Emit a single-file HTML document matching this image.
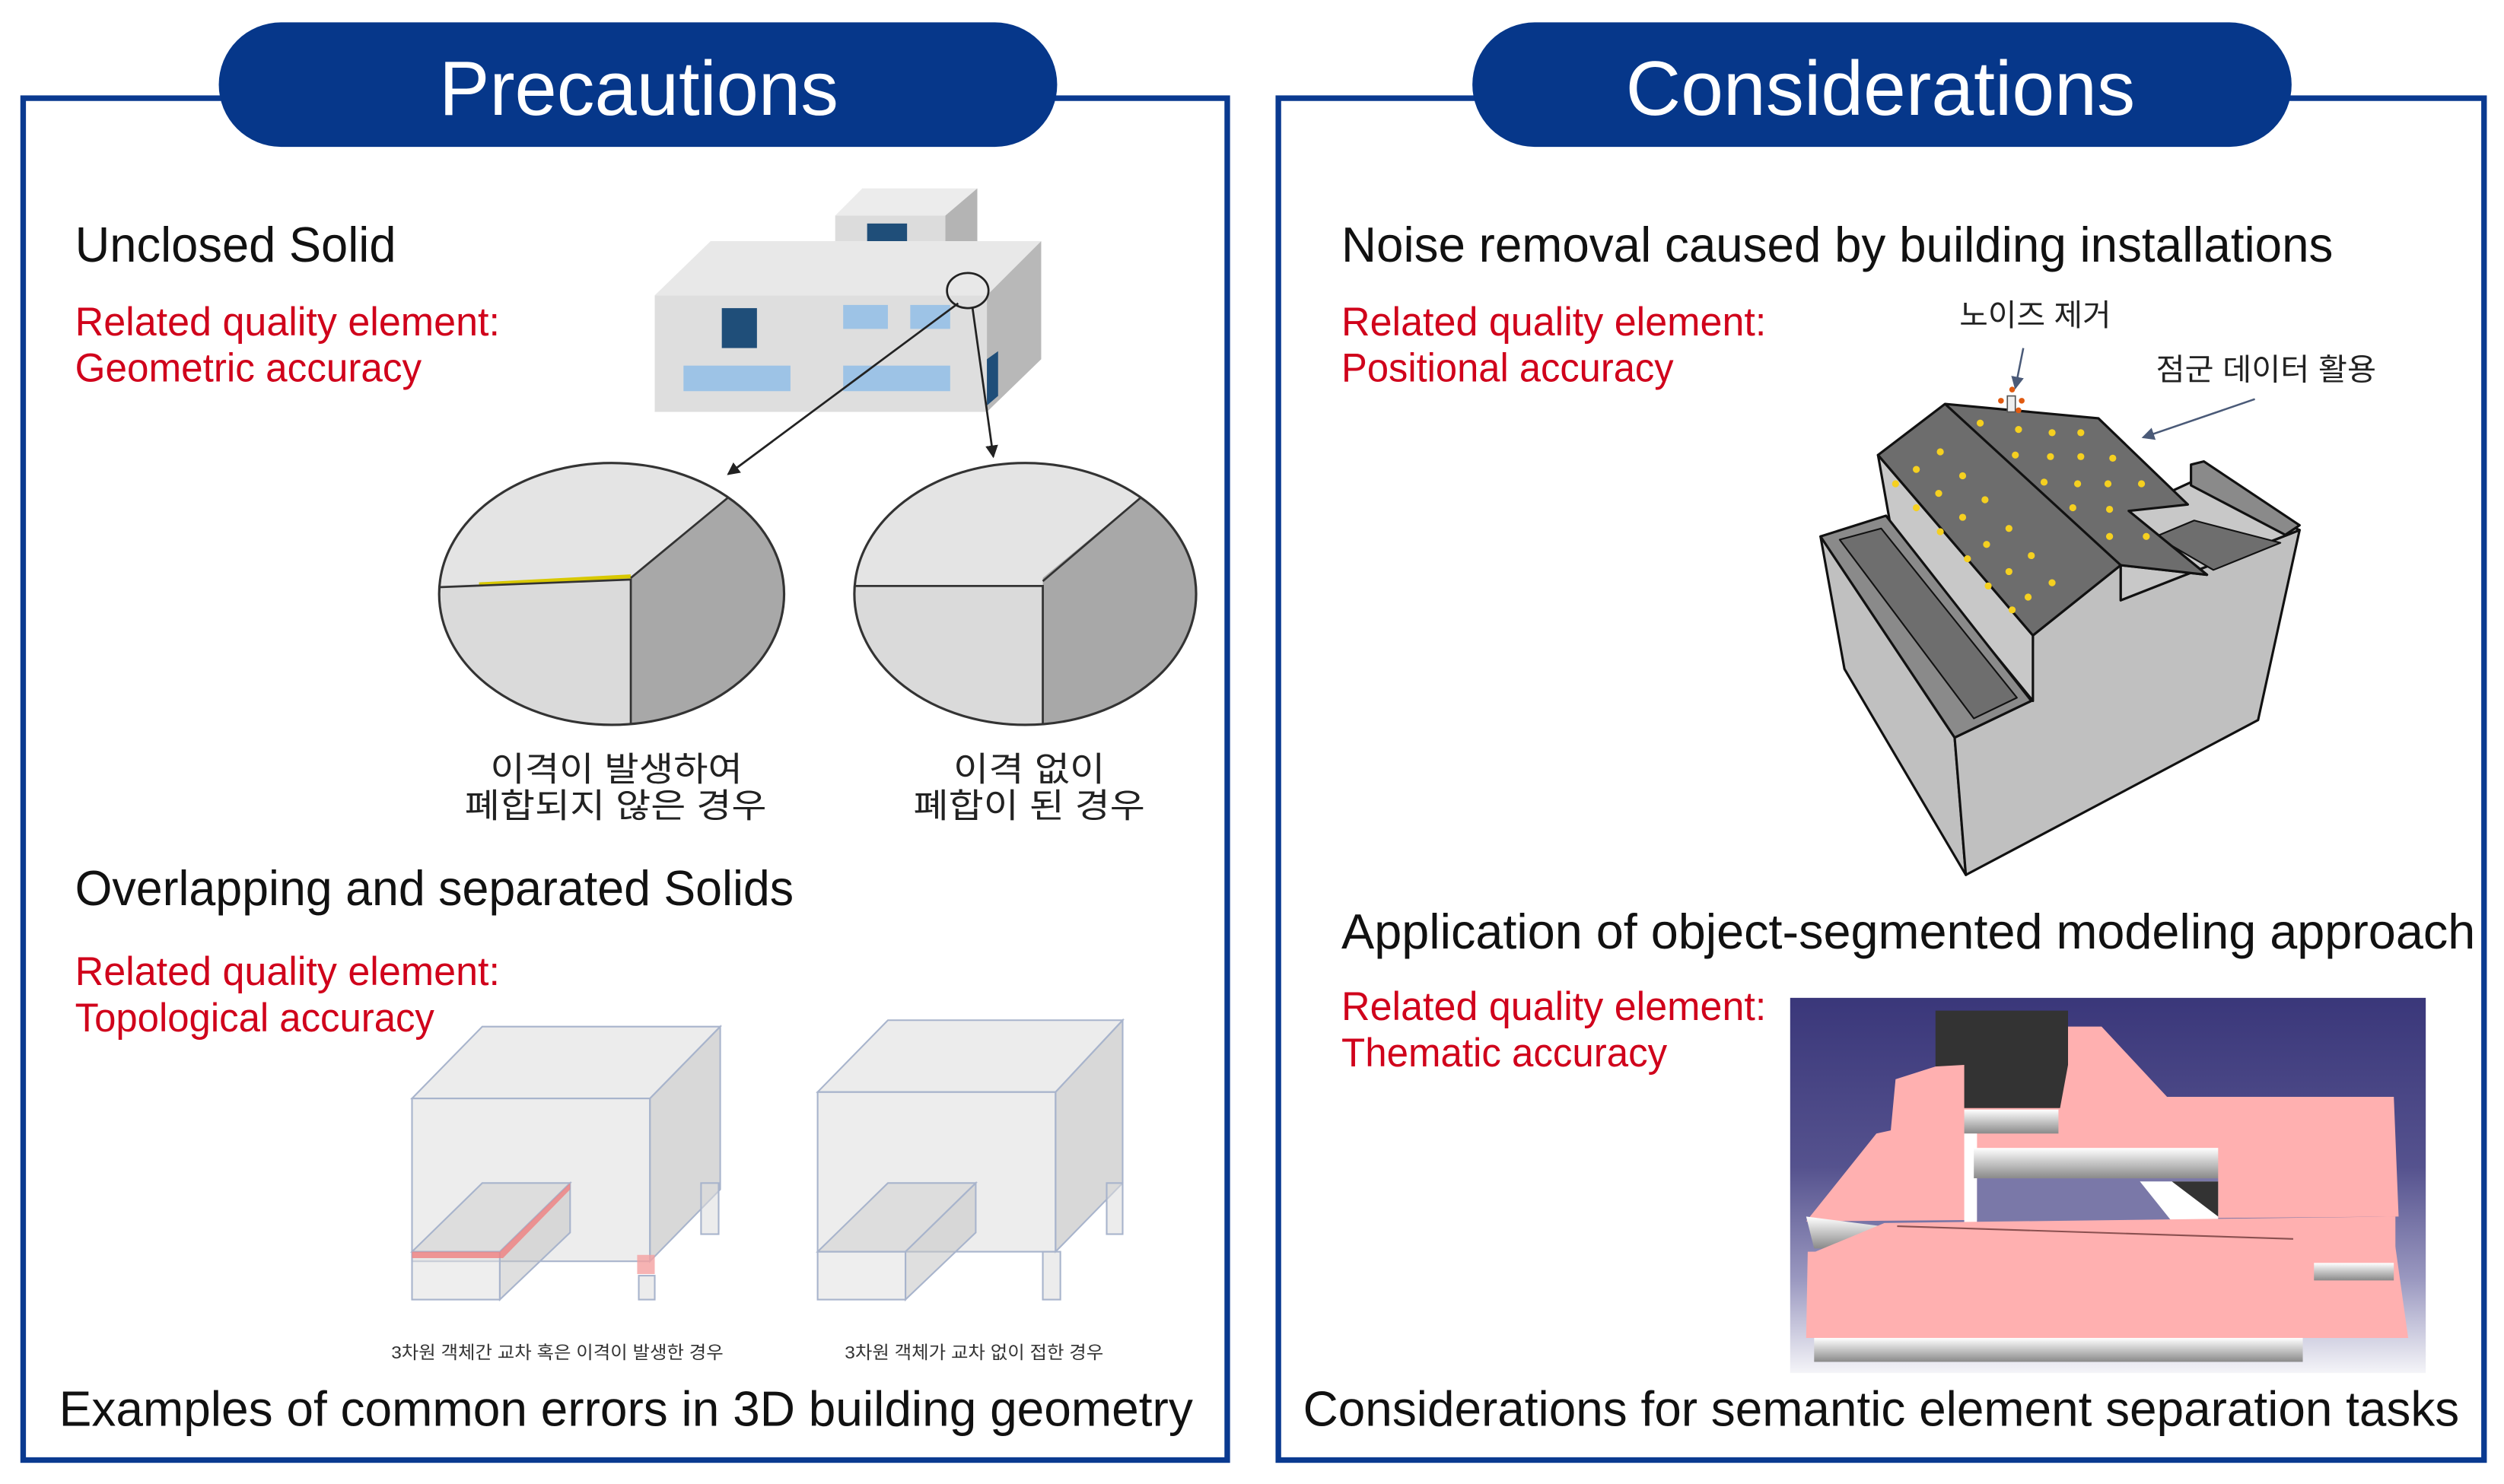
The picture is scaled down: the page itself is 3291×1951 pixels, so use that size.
<!DOCTYPE html>
<html><head><meta charset="utf-8"><style>
html,body{margin:0;padding:0;background:#fff;}
svg{display:block;}
text{font-family:"Liberation Sans","Noto Sans CJK KR",sans-serif;}
</style></head><body>
<svg width="3291" height="1951" viewBox="0 0 1568 929.5" preserveAspectRatio="none" xmlns="http://www.w3.org/2000/svg">
<defs>
<linearGradient id="bg" x1="0" y1="0" x2="0" y2="1"><stop offset="0" stop-color="#3a377a"/><stop offset="0.45" stop-color="#55528e"/><stop offset="0.75" stop-color="#9a98c0"/><stop offset="1" stop-color="#f4f4f8"/></linearGradient>
<linearGradient id="wg" x1="0" y1="0" x2="0" y2="1"><stop offset="0" stop-color="#ffffff"/><stop offset="1" stop-color="#8a8a8a"/></linearGradient>
<clipPath id="c1"><ellipse cx="383" cy="372" rx="108" ry="82"/></clipPath>
<clipPath id="c2"><ellipse cx="642" cy="372" rx="107" ry="82"/></clipPath>
<marker id="ah" markerWidth="8" markerHeight="8" refX="7" refY="4" orient="auto" markerUnits="userSpaceOnUse"><path d="M0,0 L8,4 L0,8 z" fill="#222"/></marker>
<marker id="ah2" markerWidth="8" markerHeight="8" refX="7" refY="4" orient="auto" markerUnits="userSpaceOnUse"><path d="M0,0 L8,4 L0,8 z" fill="#4a5a78"/></marker>
</defs>

<!-- Panels -->
<rect x="14.5" y="61.5" width="754" height="853" fill="#fff" stroke="#0a3a90" stroke-width="3.5"/>
<rect x="800.5" y="61.5" width="755" height="853" fill="#fff" stroke="#0a3a90" stroke-width="3.5"/>
<rect x="137" y="14" width="525" height="78" rx="39" fill="#06378a"/>
<rect x="922" y="14" width="513" height="78" rx="39" fill="#06378a"/>
<text x="275" y="72" font-size="48" fill="#fff" textLength="250" lengthAdjust="spacingAndGlyphs">Precautions</text>
<text x="1018" y="72" font-size="48" fill="#fff" textLength="319" lengthAdjust="spacingAndGlyphs">Considerations</text>

<!-- Left texts -->
<text x="47" y="164" font-size="31" fill="#111" textLength="201" lengthAdjust="spacingAndGlyphs">Unclosed Solid</text>
<text x="47" y="210" font-size="25" fill="#d0021b" textLength="266" lengthAdjust="spacingAndGlyphs">Related quality element:</text>
<text x="47" y="239" font-size="25" fill="#d0021b" textLength="217" lengthAdjust="spacingAndGlyphs">Geometric accuracy</text>
<text x="47" y="567" font-size="31" fill="#111" textLength="450" lengthAdjust="spacingAndGlyphs">Overlapping and separated Solids</text>
<text x="47" y="617" font-size="25" fill="#d0021b" textLength="266" lengthAdjust="spacingAndGlyphs">Related quality element:</text>
<text x="47" y="646" font-size="25" fill="#d0021b" textLength="225" lengthAdjust="spacingAndGlyphs">Topological accuracy</text>
<text x="37" y="893" font-size="31" fill="#111" textLength="710" lengthAdjust="spacingAndGlyphs">Examples of common errors in 3D building geometry</text>

<!-- Left building -->
<polygon points="523,135 540,118 612,118 592,135" fill="#ececec"/>
<polygon points="592,135 612,118 612,165 592,175" fill="#b4b4b4"/>
<rect x="523" y="135" width="69" height="45" fill="#dcdcdc"/>
<rect x="543" y="140" width="25" height="25" fill="#1f4e79"/>
<polygon points="410,185 445,151 652,151 618,185" fill="#e8e8e8"/>
<rect x="410" y="185" width="208" height="73" fill="#dedede"/>
<polygon points="618,185 652,151 652,225 618,258" fill="#b8b8b8"/>
<rect x="452" y="193" width="22" height="25" fill="#1f4e79"/>
<polygon points="618,225 625,220 625,248 618,254" fill="#1f4e79"/>
<rect x="528" y="191" width="28" height="15" fill="#9dc3e6"/>
<rect x="570" y="191" width="25" height="15" fill="#9dc3e6"/>
<rect x="428" y="229" width="67" height="16" fill="#9dc3e6"/>
<rect x="528" y="229" width="67" height="16" fill="#9dc3e6"/>
<ellipse cx="606" cy="182" rx="13" ry="11" fill="none" stroke="#222" stroke-width="1.3"/>
<line x1="600" y1="190" x2="456" y2="297" stroke="#222" stroke-width="1.3" marker-end="url(#ah)"/>
<line x1="609" y1="193" x2="622" y2="286" stroke="#222" stroke-width="1.3" marker-end="url(#ah)"/>

<!-- Ellipses -->
<g clip-path="url(#c1)">
<rect x="270" y="285" width="230" height="180" fill="#e4e4e4"/>
<polygon points="270,367 395,362 395,470 270,470" fill="#dadada"/>
<polygon points="395,362 470,300 500,300 500,470 395,470" fill="#a8a8a8"/>
<line x1="300" y1="366" x2="395" y2="361" stroke="#d8c800" stroke-width="2.5"/>
<polyline points="270,368 395,363 395,470" fill="none" stroke="#333" stroke-width="1.3"/>
<line x1="395" y1="362" x2="470" y2="300" stroke="#333" stroke-width="1.3"/>
</g>
<ellipse cx="383" cy="372" rx="108" ry="82" fill="none" stroke="#333" stroke-width="1.5"/>
<g clip-path="url(#c2)">
<rect x="530" y="285" width="230" height="180" fill="#e4e4e4"/>
<polygon points="530,367 653,367 653,470 530,470" fill="#dadada"/>
<polygon points="653,362 728,300 760,300 760,470 653,470" fill="#a8a8a8"/>
<polyline points="530,367 653,367 653,470" fill="none" stroke="#333" stroke-width="1.3"/>
<line x1="653" y1="364" x2="728" y2="300" stroke="#333" stroke-width="1.3"/>
</g>
<ellipse cx="642" cy="372" rx="107" ry="82" fill="none" stroke="#333" stroke-width="1.5"/>
<g font-size="21" fill="#222">
<text x="307" y="489" textLength="158" lengthAdjust="spacingAndGlyphs">이격이 발생하여</text>
<text x="291" y="512" textLength="189" lengthAdjust="spacingAndGlyphs">폐합되지 않은 경우</text>
<text x="597" y="489" textLength="95" lengthAdjust="spacingAndGlyphs">이격 없이</text>
<text x="572" y="512" textLength="145" lengthAdjust="spacingAndGlyphs">폐합이 된 경우</text>
</g>

<!-- Cubes -->
<g stroke="#a8b4cc" stroke-width="1" fill-opacity="0.55">
<polygon points="258,688 302,643 451,643 407,688" fill="#dcdcdc"/>
<rect x="258" y="688" width="149" height="102" fill="#dedede"/>
<polygon points="407,688 451,643 451,745 407,790" fill="#b8b8b8"/>
<polygon points="258,784 302,741 357,741 313,784" fill="#cfcfcf"/>
<rect x="258" y="784" width="55" height="30" fill="#e0e0e0"/>
<polygon points="313,784 357,741 357,772 313,814" fill="#c4c4c4"/>
<rect x="400" y="799" width="10" height="15" fill="#ddd"/>
<rect x="439" y="741" width="11" height="32" fill="#ddd"/>
<polygon points="512,684 556,639 703,639 661,684" fill="#dcdcdc"/>
<rect x="512" y="684" width="149" height="100" fill="#dedede"/>
<polygon points="661,684 703,639 703,741 661,784" fill="#b8b8b8"/>
<polygon points="512,784 556,741 611,741 567,784" fill="#cfcfcf"/>
<rect x="512" y="784" width="55" height="30" fill="#e0e0e0"/>
<polygon points="567,784 611,741 611,772 567,814" fill="#c4c4c4"/>
<rect x="653" y="784" width="11" height="30" fill="#ddd"/>
<rect x="693" y="741" width="10" height="32" fill="#ddd"/>
</g>
<polygon points="258,784 313,784 357,741 357,745 315,788 258,788" fill="#f08080" opacity="0.8"/>
<rect x="399" y="786" width="11" height="12" fill="#f4a0a0" opacity="0.8"/>
<text x="245" y="851" font-size="11" fill="#333" textLength="208" lengthAdjust="spacingAndGlyphs">3차원 객체간 교차 혹은 이격이 발생한 경우</text>
<text x="529" y="851" font-size="11" fill="#333" textLength="162" lengthAdjust="spacingAndGlyphs">3차원 객체가 교차 없이 접한 경우</text>

<!-- Right texts -->
<text x="840" y="164" font-size="31" fill="#111" textLength="621" lengthAdjust="spacingAndGlyphs">Noise removal caused by building installations</text>
<text x="840" y="210" font-size="25" fill="#d0021b" textLength="266" lengthAdjust="spacingAndGlyphs">Related quality element:</text>
<text x="840" y="239" font-size="25" fill="#d0021b" textLength="208" lengthAdjust="spacingAndGlyphs">Positional accuracy</text>
<text x="1227" y="204" font-size="19" fill="#222" textLength="95" lengthAdjust="spacingAndGlyphs">노이즈 제거</text>
<text x="1350" y="238" font-size="19" fill="#222" textLength="138" lengthAdjust="spacingAndGlyphs">점군 데이터 활용</text>
<text x="840" y="594" font-size="31" fill="#111" textLength="710" lengthAdjust="spacingAndGlyphs">Application of object-segmented modeling approach</text>
<text x="840" y="639" font-size="25" fill="#d0021b" textLength="266" lengthAdjust="spacingAndGlyphs">Related quality element:</text>
<text x="840" y="668" font-size="25" fill="#d0021b" textLength="204" lengthAdjust="spacingAndGlyphs">Thematic accuracy</text>
<text x="816" y="893" font-size="31" fill="#111" textLength="724" lengthAdjust="spacingAndGlyphs">Considerations for semantic element separation tasks</text>

<!-- Right building -->
<g stroke="#111" stroke-width="1.5" stroke-linejoin="round">
<polygon points="1140,336 1224,462 1231,548 1155,419" fill="#c0c0c0"/>
<polygon points="1224,462 1272,439 1273,398 1328,354 1328,376 1440,332 1414,451 1231,548" fill="#c0c0c0"/>
<polygon points="1176,285 1273,398 1273,439 1184,330" fill="#c8c8c8"/>
<polygon points="1140,336 1181,323 1272,439 1224,462" fill="#8a8a8a"/>
<polygon points="1152,338 1178,331 1263,437 1236,450" fill="#6e6e6e" stroke-width="1"/>
<polygon points="1333,320 1372,302 1440,332 1328,376 1328,354 1382,360" fill="#c8c8c8"/>
<polygon points="1372,291 1380,289 1440,329 1431,335 1372,304" fill="#8a8a8a"/>
<polygon points="1350,336 1374,326 1428,340 1386,357" fill="#6e6e6e" stroke-width="1"/>
<polygon points="1176,285 1218,253 1314,262 1370,316 1333,320 1382,360 1328,354 1273,398" fill="#6d6d6d"/>
<line x1="1218" y1="253" x2="1328" y2="354"/>
</g>
<g fill="#f5d020">
<circle cx="1215" cy="283" r="2.2"/><circle cx="1200" cy="294" r="2.2"/><circle cx="1187" cy="303" r="2.2"/><circle cx="1229" cy="298" r="2.2"/><circle cx="1214" cy="309" r="2.2"/><circle cx="1200" cy="318" r="2.2"/><circle cx="1243" cy="313" r="2.2"/><circle cx="1229" cy="324" r="2.2"/><circle cx="1215" cy="333" r="2.2"/><circle cx="1258" cy="331" r="2.2"/><circle cx="1244" cy="341" r="2.2"/><circle cx="1232" cy="350" r="2.2"/><circle cx="1272" cy="348" r="2.2"/><circle cx="1258" cy="358" r="2.2"/><circle cx="1245" cy="367" r="2.2"/><circle cx="1285" cy="365" r="2.2"/><circle cx="1270" cy="374" r="2.2"/><circle cx="1260" cy="382" r="2.2"/>
<circle cx="1240" cy="265" r="2.2"/><circle cx="1264" cy="269" r="2.2"/><circle cx="1285" cy="271" r="2.2"/><circle cx="1303" cy="271" r="2.2"/><circle cx="1262" cy="285" r="2.2"/><circle cx="1284" cy="286" r="2.2"/><circle cx="1303" cy="286" r="2.2"/><circle cx="1323" cy="287" r="2.2"/><circle cx="1280" cy="302" r="2.2"/><circle cx="1301" cy="303" r="2.2"/><circle cx="1320" cy="303" r="2.2"/><circle cx="1341" cy="303" r="2.2"/><circle cx="1298" cy="318" r="2.2"/><circle cx="1321" cy="319" r="2.2"/><circle cx="1321" cy="336" r="2.2"/><circle cx="1344" cy="336" r="2.2"/>
</g>
<rect x="1257" y="248" width="5" height="10" fill="#eee" stroke="#555" stroke-width="0.8"/>
<g fill="#e05a10"><circle cx="1253" cy="251" r="1.8"/><circle cx="1260" cy="244" r="1.8"/><circle cx="1266" cy="251" r="1.8"/><circle cx="1264" cy="257" r="1.8"/></g>
<line x1="1267" y1="218" x2="1262" y2="243" stroke="#4a5a78" stroke-width="1.2" marker-end="url(#ah2)"/>
<line x1="1412" y1="250" x2="1342" y2="274" stroke="#4a5a78" stroke-width="1.2" marker-end="url(#ah2)"/>

<!-- Right bottom image -->
<rect x="1121" y="625" width="398" height="235" fill="url(#bg)"/>
<rect x="1212" y="633" width="83" height="62" fill="#333"/>
<polygon points="1295,643 1316,643 1357,687 1499,687 1502,762 1131,765 1175,710 1184,708 1187,676 1212,668 1230,667 1230,694 1290,694 1295,667" fill="#ffb0b0"/>
<rect x="1230" y="695" width="59" height="15" fill="url(#wg)"/>
<rect x="1230" y="710" width="8" height="57" fill="#fff"/>
<rect x="1238" y="738" width="151" height="29" fill="#7a78a8"/>
<rect x="1236" y="719" width="153" height="19" fill="url(#wg)"/>
<polygon points="1340,740 1389,740 1389,765 1360,765" fill="#fff"/>
<polygon points="1360,740 1389,740 1389,762" fill="#333"/>
<polygon points="1131,762 1178,768 1178,782 1136,782" fill="url(#wg)"/>
<polygon points="1132,784 1500,781 1508,838 1131,838" fill="#ffb0b0"/>
<polygon points="1180,766 1500,762 1500,784 1132,786" fill="#ffb0b0"/>
<line x1="1188" y1="768" x2="1436" y2="776" stroke="#8a5050" stroke-width="1"/>
<rect x="1449" y="791" width="50" height="11" fill="url(#wg)"/>
<rect x="1136" y="838" width="306" height="15" fill="url(#wg)"/>
</svg>
</body></html>
